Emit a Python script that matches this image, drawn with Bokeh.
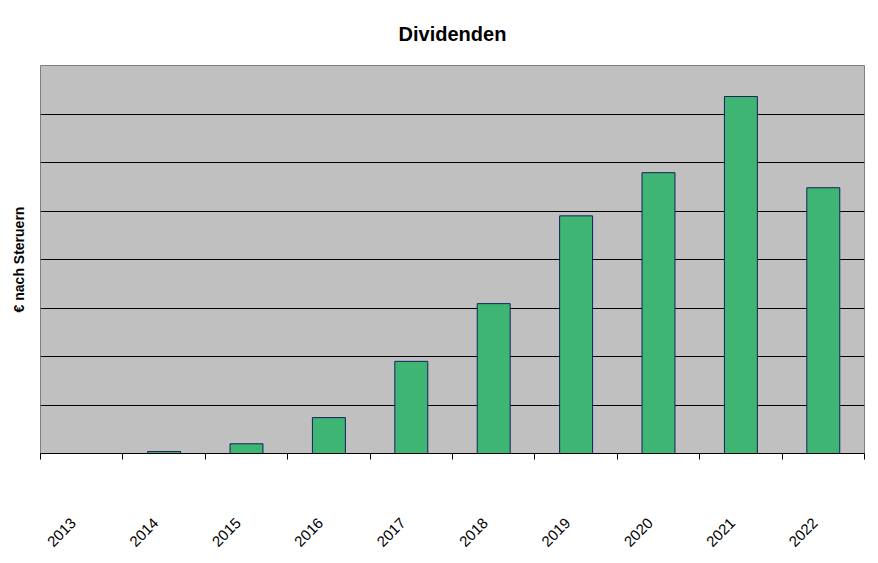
import math
from bokeh.plotting import figure
from bokeh.models import (Range1d, LinearAxis, FixedTicker, ColumnDataSource)
from bokeh.embed import file_html
from bokeh.resources import INLINE

# ---- data (1 unit = one gridline interval) ----
years = ["2013", "2014", "2015", "2016", "2017", "2018", "2019", "2020", "2021", "2022"]
dividends = [0.0, 0.04, 0.2, 0.74, 1.9, 3.09, 4.9, 5.79, 7.36, 5.48]
title_text = "Dividenden"
y_label = "€ nach Steruern"
grid_values = [1, 2, 3, 4, 5, 6, 7]

FONT = "Liberation Sans"

n = len(years)
centers = [i + 0.5 for i in range(n)]
bounds = list(range(n + 1))
# label anchors nudged slightly left of the bar centres (as in the original)
label_pos = [round(c - 0.1, 2) for c in centers]
source = ColumnDataSource(dict(x=centers, year=years, value=dividends))

p = figure(width=870, height=555, output_backend="svg", toolbar_location=None,
           x_range=Range1d(0, n), y_range=Range1d(0, 8),
           x_axis_location=None, y_axis_location=None,
           min_border_left=40, min_border_right=6, min_border_top=65,
           min_border_bottom=102)

p.background_fill_color = "#C0C0C0"
p.border_fill_color = "white"
p.outline_line_color = "#808080"
p.outline_line_width = 1

# title
p.title.text = title_text
p.title.align = "center"
p.title.text_font = FONT
p.title.text_font_size = "20px"
p.title.text_font_style = "bold"
p.title.text_color = "black"
p.title.offset = 0
p.title.standoff = 41

# bars
p.vbar(x="x", top="value", width=0.4, source=source,
       fill_color="#3FB573", line_color="#14205E", line_width=1)

# y axis (only the label)
yax = LinearAxis(ticker=FixedTicker(ticks=[]))
yax.axis_line_color = None
yax.major_tick_line_color = None
yax.minor_tick_line_color = None
yax.major_tick_out = 0
yax.major_label_standoff = 0
yax.axis_label = y_label
yax.axis_label_text_font = FONT
yax.axis_label_text_font_size = "14px"
yax.axis_label_text_font_style = "bold"
yax.axis_label_text_color = "black"
yax.axis_label_standoff = 14
p.add_layout(yax, "left")

# grid lines
p.ygrid.grid_line_color = "black"
p.ygrid.grid_line_width = 1
p.ygrid.ticker = FixedTicker(ticks=grid_values)
p.xgrid.grid_line_color = None

# x axis: year labels, small ticks at category boundaries
xax = LinearAxis(ticker=FixedTicker(ticks=label_pos, minor_ticks=bounds))
xax.major_label_overrides = {c: y for c, y in zip(label_pos, years)}
xax.axis_line_color = "black"
xax.axis_line_width = 1
xax.major_tick_line_color = None
xax.major_tick_in = 0
xax.major_tick_out = 0
xax.minor_tick_line_color = "black"
xax.minor_tick_in = 0
xax.minor_tick_out = 6
xax.major_label_orientation = math.pi / 4
xax.major_label_text_font = FONT
xax.major_label_text_font_size = "15px"
xax.major_label_text_color = "black"
xax.major_label_standoff = 61
p.add_layout(xax, "below")

open("out.html", "w").write(file_html(p, INLINE))
